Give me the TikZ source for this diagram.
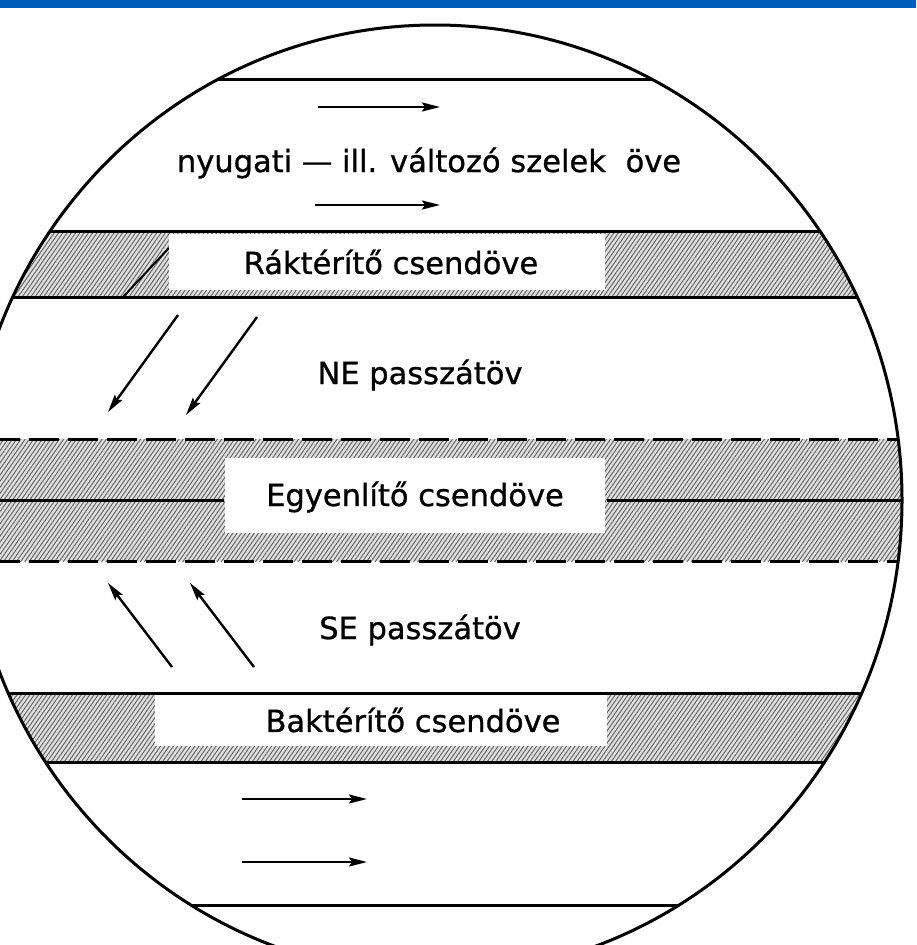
\documentclass[tikz,border=0pt]{standalone}
\usepackage{fontspec}
\setmainfont{DejaVu Sans}[FakeBold=0.9]
\usetikzlibrary{calc, positioning, patterns.meta, arrows.meta}
\definecolor{barblue}{RGB}{0,94,184}
\tikzset{
    zone/.style={
        preaction={fill=black!12},
        pattern={Lines[angle=55, distance=3.5pt, line width=1pt]},
        pattern color=black!60,
    },
    box/.style={fill=white, inner sep=0pt},
    wind/.style={line width=2.4pt, -{Stealth[length=18pt, width=9pt, inset=3pt]}},
    equator/.style={dash pattern=on 30pt off 9pt},
}
\def\globe{(435,500) ellipse [x radius=467pt, y radius=475pt]}
\newcommand{\Zone}[3][solid]{%
    % #1 : style of the border lines
    % #2 : top y
    % #3 : bottom y
    \fill[zone] (-10,#2) rectangle (930,#3);
    \draw[#1] (-10,#2) -- (930,#2);
    \draw[#1] (-10,#3) -- (930,#3);
}

\begin{document}
\begin{tikzpicture}[
        x=1pt,
        y=-1pt,
        line width=3pt,
        font=\fontsize{30.5}{36}\selectfont,
    ]

    \def\xleft{0}
    \def\xright{916}
    \def\ytop{0}
    \def\ybottom{945}

    \useasboundingbox (\xleft,\ytop) rectangle (\xright,\ybottom);
    \fill[barblue] (\xleft,\ytop) rectangle (\xright,8);

    \begin{scope}
        \clip (\xleft,\ytop) rectangle (\xright,\ybottom);
        \clip \globe;

        % westerlies
        \draw (-10,79) -- (930,79);
        \node (west) at (429,163) {nyugati --- ill. változó szelek\hspace{10pt} öve};
        \coordinate (w1s) at (318,107);
        \coordinate (w1e) at (440,107);
        \coordinate (w2s) at (315,205);
        \coordinate (w2e) at (440,205);
        \draw[wind] (w1s) -- (w1e);
        \draw[wind] (w2s) -- (w2e);

        % Tropic of Cancer calms
        \Zone{231}{297}
        \draw[line width=2pt] (123,297) -- (169,248);
        \node[box, minimum width=436pt, minimum height=56pt] (rakbox) at (387,262) {};
        \node (rak) at (391,262) {Ráktérítő csendöve};

        % NE trades
        \node (ne) at (420,375) {NE passzátöv};
        \coordinate (ne1s) at (178,315);
        \coordinate (ne1e) at (108,412);
        \coordinate (ne2s) at (257,317);
        \coordinate (ne2e) at (186,415);
        \draw[wind] (ne1s) -- (ne1e);
        \draw[wind] (ne2s) -- (ne2e);

        % equatorial calms
        \Zone[equator]{439}{561}
        \node[box, minimum width=380pt, minimum height=75pt] (eqbox) at (415,495) {};
        \node (eq) at (415,497) {Egyenlítő csendöve};
        \coordinate (eqW) at (-10,500);
        \coordinate (eqE) at (930,500);
        \draw (eqW) -- (eqW -| eqbox.west);
        \draw (eqbox.east |- eqE) -- (eqE);

        % SE trades
        \node (se) at (420,630) {SE passzátöv};
        \coordinate (se1s) at (172,667);
        \coordinate (se1e) at (108,583);
        \coordinate (se2s) at (254,667);
        \coordinate (se2e) at (190,583);
        \draw[wind] (se1s) -- (se1e);
        \draw[wind] (se2s) -- (se2e);

        % Tropic of Capricorn calms
        \Zone{693}{762}
        \node[box, minimum width=452pt, minimum height=51pt] (bakbox) at (381,720) {};
        \node (bak) at (413,720) {Baktérítő csendöve};

        % southern westerlies
        \coordinate (s1s) at (242,799);
        \coordinate (s1e) at (367,799);
        \coordinate (s2s) at (242,862);
        \coordinate (s2e) at (367,862);
        \draw[wind] (s1s) -- (s1e);
        \draw[wind] (s2s) -- (s2e);
        \draw (-10,905) -- (930,905);
    \end{scope}

    \begin{scope}
        \clip (\xleft,\ytop) rectangle (\xright,\ybottom);
        \draw[line width=3pt] \globe;
    \end{scope}

\end{tikzpicture}
\end{document}
